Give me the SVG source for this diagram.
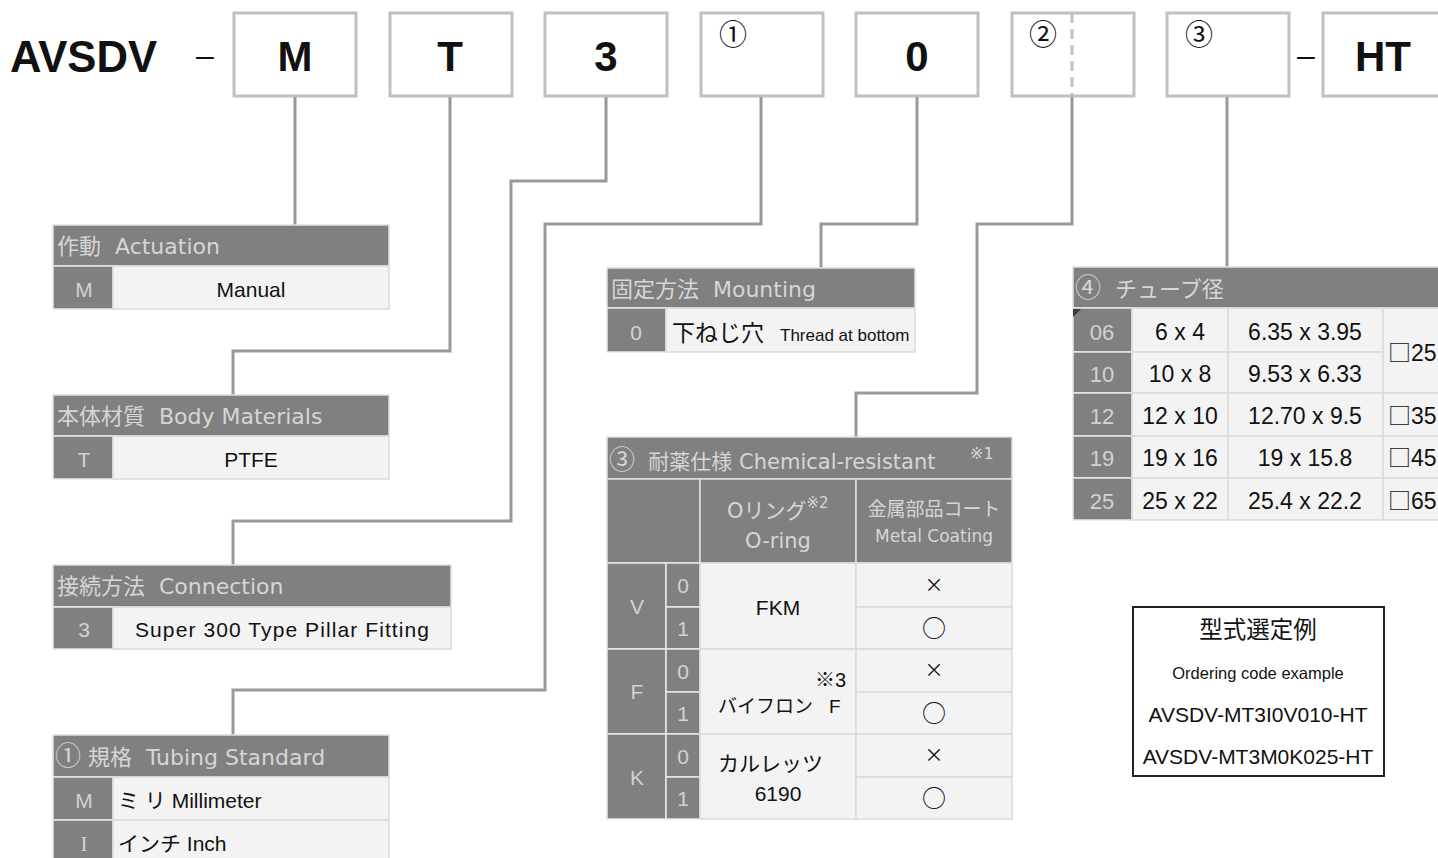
<svg xmlns="http://www.w3.org/2000/svg" width="1438" height="858" viewBox="0 0 1438 858">
<style>
.box{fill:#fff;stroke:#c0c0c0;stroke-width:3}
.conn{fill:none;stroke:#999;stroke-width:3}
.hdr{fill:#808080;stroke:#e0e0e0;stroke-width:1.5}
.code{fill:#808080;stroke:#e8e8e8;stroke-width:1.5}
.cell{fill:#f3f3f3;stroke:#dadada;stroke-width:1.5}
.ht{fill:#d6d6d6;font-family:"DejaVu Sans","Noto Sans CJK JP",sans-serif;font-size:22px;white-space:pre}
.h21{font-size:21px}
.ci{font-family:"Noto Sans CJK JP",sans-serif;font-size:26px}
.ct{fill:#d2d2d2;font-family:"Liberation Sans","Noto Sans CJK JP",sans-serif;font-size:21px;text-anchor:middle}
.bt{fill:#111;font-family:"Liberation Sans","Noto Sans CJK JP",sans-serif;font-size:21px}
.nm{font-size:23px;white-space:pre}
.sym{fill:#111;font-family:"Noto Sans CJK JP",sans-serif;font-size:24px;text-anchor:middle}
.x{font-size:19px}
.sq{font-family:"Noto Sans CJK JP",sans-serif}
.mid{text-anchor:middle}
.big{fill:#111;font-family:"Liberation Sans",sans-serif;font-weight:bold;font-size:42px;text-anchor:middle}
.cn{fill:#111;font-family:"Noto Sans CJK JP",sans-serif;font-size:28px}
</style>

<g id="code-row">
  <text x="10" y="72" class="big" style="text-anchor:start;font-size:44px" textLength="147" lengthAdjust="spacingAndGlyphs">AVSDV</text>
  <text x="205" y="66" class="bt mid" style="font-size:32px">–</text>
  <g id="box-M"><rect class="box" x="234" y="13" width="122" height="83"/><text class="big" x="295" y="71">M</text></g>
  <g id="box-T"><rect class="box" x="390" y="13" width="122" height="83"/><text class="big" x="450" y="71">T</text></g>
  <g id="box-3"><rect class="box" x="545" y="13" width="122" height="83"/><text class="big" x="606" y="71">3</text></g>
  <g id="box-1"><rect class="box" x="701" y="13" width="122" height="83"/><text class="cn" x="719" y="45">①</text></g>
  <g id="box-0"><rect class="box" x="856" y="13" width="122" height="83"/><text class="big" x="917" y="71">0</text></g>
  <g id="box-2"><rect class="box" x="1012" y="13" width="122" height="83"/><line x1="1072" y1="13" x2="1072" y2="96" stroke="#c0c0c0" stroke-width="3" stroke-dasharray="10 6"/><text class="cn" x="1029" y="45">②</text></g>
  <g id="box-3c"><rect class="box" x="1167" y="13" width="122" height="83"/><text class="cn" x="1185" y="45">③</text></g>
  <text x="1306" y="66" class="bt mid" style="font-size:32px">–</text>
  <g id="box-HT"><rect class="box" x="1323" y="13" width="130" height="83"/><text class="big" x="1383" y="71">HT</text></g>
</g>

<g id="connectors">
  <path class="conn" d="M295 97V225"/>
  <path class="conn" d="M450 97V351H233V395"/>
  <path class="conn" d="M606 97V181H511V521H233V565"/>
  <path class="conn" d="M761 97V224H545V690H233V735"/>
  <path class="conn" d="M917 97V224H821V268"/>
  <path class="conn" d="M1072 97V224H977V393H856V437"/>
  <path class="conn" d="M1227 97V267"/>
</g>

<g id="actuation">
  <rect class="hdr" x="53" y="225" width="336" height="41"/>
  <text class="ht" x="57" y="254">作動  Actuation</text>
  <rect class="code" x="53" y="266" width="60" height="43"/>
  <rect class="cell" x="113" y="266" width="276" height="43"/>
  <text class="ct" x="84" y="297">M</text>
  <text class="bt mid" x="251" y="297">Manual</text>
</g>

<g id="body-materials">
  <rect class="hdr" x="53" y="395" width="336" height="41"/>
  <text class="ht" x="57" y="424">本体材質  Body Materials</text>
  <rect class="code" x="53" y="436" width="60" height="43"/>
  <rect class="cell" x="113" y="436" width="276" height="43"/>
  <text class="ct" x="84" y="467">T</text>
  <text class="bt mid" x="251" y="467">PTFE</text>
</g>

<g id="connection">
  <rect class="hdr" x="53" y="565" width="398" height="42"/>
  <text class="ht" x="57" y="594">接続方法  Connection</text>
  <rect class="code" x="53" y="607" width="60" height="42"/>
  <rect class="cell" x="113" y="607" width="338" height="42"/>
  <text class="ct" x="84" y="637">3</text>
  <text class="bt mid" x="282" y="637" textLength="294">Super 300 Type Pillar Fitting</text>
</g>

<g id="tubing-standard">
  <rect class="hdr" x="53" y="735" width="336" height="42"/>
  <text class="ht" x="55" y="765"><tspan class="ci">①</tspan> 規格  Tubing Standard</text>
  <rect class="code" x="53" y="777" width="60" height="43"/>
  <rect class="cell" x="113" y="777" width="276" height="43"/>
  <rect class="code" x="53" y="820" width="60" height="42"/>
  <rect class="cell" x="113" y="820" width="276" height="42"/>
  <text class="ct" x="84" y="808">M</text>
  <text class="bt" x="118" y="808">ミ リ Millimeter</text>
  <text class="ct" x="84" y="851" style="font-family:'Liberation Serif',serif">I</text>
  <text class="bt" x="118" y="851">インチ Inch</text>
</g>

<g id="mounting">
  <rect class="hdr" x="607" y="268" width="308" height="40"/>
  <text class="ht" x="611" y="297">固定方法  Mounting</text>
  <rect class="code" x="607" y="308" width="59" height="44"/>
  <rect class="cell" x="666" y="308" width="249" height="44"/>
  <text class="ct" x="636" y="340">0</text>
  <text class="bt" x="672" y="341" style="font-size:23px">下ねじ穴</text>
  <text class="bt" x="780" y="341" style="font-size:17px">Thread at bottom</text>
</g>

<g id="chemical">
  <rect class="hdr" x="607" y="437" width="405" height="42"/>
  <text class="ht h21" x="609" y="469"><tspan class="ci">③</tspan>  耐薬仕様 Chemical-resistant</text>
  <text class="ht" x="970" y="459" style="font-size:16px">※1</text>
  <rect class="hdr" x="607" y="479" width="93" height="84"/>
  <rect class="hdr" x="700" y="479" width="156" height="84"/>
  <rect class="hdr" x="856" y="479" width="156" height="84"/>
  <text class="ht h21" x="727" y="518">Oリング<tspan dy="-10" style="font-size:15px">※2</tspan></text>
  <text class="ht h21 mid" x="778" y="548">O-ring</text>
  <text class="ht mid" x="934" y="516" style="font-size:19px">金属部品コート</text>
  <text class="ht mid" x="934" y="542" style="font-size:17px">Metal Coating</text>

  <rect class="code" x="607" y="563" width="59" height="86"/>
  <rect class="code" x="607" y="649" width="59" height="85"/>
  <rect class="code" x="607" y="734" width="59" height="85"/>
  <rect class="code" x="666" y="563" width="34" height="44"/>
  <rect class="code" x="666" y="607" width="34" height="42"/>
  <rect class="code" x="666" y="649" width="34" height="43"/>
  <rect class="code" x="666" y="692" width="34" height="42"/>
  <rect class="code" x="666" y="734" width="34" height="43"/>
  <rect class="code" x="666" y="777" width="34" height="42"/>
  <rect class="cell" x="700" y="563" width="156" height="86"/>
  <rect class="cell" x="700" y="649" width="156" height="85"/>
  <rect class="cell" x="700" y="734" width="156" height="85"/>
  <rect class="cell" x="856" y="563" width="156" height="44"/>
  <rect class="cell" x="856" y="607" width="156" height="42"/>
  <rect class="cell" x="856" y="649" width="156" height="43"/>
  <rect class="cell" x="856" y="692" width="156" height="42"/>
  <rect class="cell" x="856" y="734" width="156" height="43"/>
  <rect class="cell" x="856" y="777" width="156" height="42"/>

  <text class="ct" x="637" y="614">V</text>
  <text class="ct" x="637" y="699">F</text>
  <text class="ct" x="637" y="785">K</text>
  <text class="ct" x="683" y="593">0</text>
  <text class="ct" x="683" y="636">1</text>
  <text class="ct" x="683" y="679">0</text>
  <text class="ct" x="683" y="721">1</text>
  <text class="ct" x="683" y="764">0</text>
  <text class="ct" x="683" y="806">1</text>

  <text class="bt mid" x="778" y="615">FKM</text>
  <text class="bt" x="815" y="687" style="font-size:20px">※3</text>
  <text class="bt" x="718" y="713" style="font-size:19px">バイフロン</text>
  <text class="bt" x="829" y="713" style="font-size:19px">F</text>
  <text class="bt" x="718" y="771">カルレッツ</text>
  <text class="bt mid" x="778" y="801">6190</text>

  <text class="sym x" x="934" y="592">×</text>
  <text class="sym" x="934" y="637">○</text>
  <text class="sym x" x="934" y="677">×</text>
  <text class="sym" x="934" y="722">○</text>
  <text class="sym x" x="934" y="762">×</text>
  <text class="sym" x="934" y="807">○</text>
</g>

<g id="tube-size">
  <rect class="hdr" x="1073" y="267" width="380" height="41"/>
  <text class="ht" x="1075" y="297"><tspan class="ci">④</tspan>  チューブ径</text>

  <rect class="code" x="1073" y="308" width="59" height="44"/>
  <rect class="code" x="1073" y="352" width="59" height="41"/>
  <rect class="code" x="1073" y="393" width="59" height="43"/>
  <rect class="code" x="1073" y="436" width="59" height="42"/>
  <rect class="code" x="1073" y="478" width="59" height="42"/>
  <polygon points="1073,309 1081,309 1073,317" fill="#3a3a3a"/>

  <rect class="cell" x="1132" y="308" width="96" height="44"/>
  <rect class="cell" x="1132" y="352" width="96" height="41"/>
  <rect class="cell" x="1132" y="393" width="96" height="43"/>
  <rect class="cell" x="1132" y="436" width="96" height="42"/>
  <rect class="cell" x="1132" y="478" width="96" height="42"/>
  <rect class="cell" x="1228" y="308" width="155" height="44"/>
  <rect class="cell" x="1228" y="352" width="155" height="41"/>
  <rect class="cell" x="1228" y="393" width="155" height="43"/>
  <rect class="cell" x="1228" y="436" width="155" height="42"/>
  <rect class="cell" x="1228" y="478" width="155" height="42"/>
  <rect class="cell" x="1383" y="308" width="70" height="85"/>
  <rect class="cell" x="1383" y="393" width="70" height="43"/>
  <rect class="cell" x="1383" y="436" width="70" height="42"/>
  <rect class="cell" x="1383" y="478" width="70" height="42"/>

  <text class="ct" x="1102" y="340" style="font-size:22px">06</text>
  <text class="ct" x="1102" y="382" style="font-size:22px">10</text>
  <text class="ct" x="1102" y="424" style="font-size:22px">12</text>
  <text class="ct" x="1102" y="466" style="font-size:22px">19</text>
  <text class="ct" x="1102" y="509" style="font-size:22px">25</text>

  <text class="bt nm mid" x="1180" y="340">6 x 4</text>
  <text class="bt nm mid" x="1180" y="382">10 x 8</text>
  <text class="bt nm mid" x="1180" y="424">12 x 10</text>
  <text class="bt nm mid" x="1180" y="466">19 x 16</text>
  <text class="bt nm mid" x="1180" y="509">25 x 22</text>

  <text class="bt nm mid" x="1305" y="340">6.35 x 3.95</text>
  <text class="bt nm mid" x="1305" y="382">9.53 x 6.33</text>
  <text class="bt nm mid" x="1305" y="424">12.70 x 9.5</text>
  <text class="bt nm mid" x="1305" y="466">19 x 15.8</text>
  <text class="bt nm mid" x="1305" y="509">25.4 x 22.2</text>

  <text class="bt nm" x="1388" y="361"><tspan class="sq">□</tspan>25</text>
  <text class="bt nm" x="1388" y="424"><tspan class="sq">□</tspan>35</text>
  <text class="bt nm" x="1388" y="466"><tspan class="sq">□</tspan>45</text>
  <text class="bt nm" x="1388" y="509"><tspan class="sq">□</tspan>65</text>
</g>

<g id="example">
  <rect x="1133" y="607" width="251" height="169" fill="#fff" stroke="#222" stroke-width="2"/>
  <text class="bt mid" x="1258" y="638" style="font-size:23.5px">型式選定例</text>
  <text class="bt mid" x="1258" y="679" style="font-size:16.5px">Ordering code example</text>
  <text class="bt mid" x="1258" y="722" style="font-size:21px">AVSDV-MT3I0V010-HT</text>
  <text class="bt mid" x="1258" y="764" style="font-size:21px">AVSDV-MT3M0K025-HT</text>
</g>
</svg>
